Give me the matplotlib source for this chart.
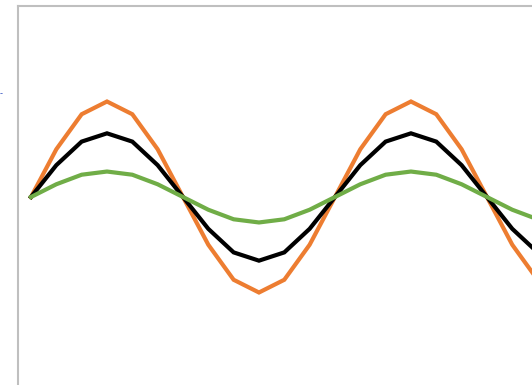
import matplotlib
matplotlib.use('Agg')
import matplotlib.pyplot as plt

# sample index (30 degree steps)
x = list(range(25))

# series values
orange = [0, 0.75, 1.3, 1.5, 1.3, 0.75, 0, -0.75, -1.3, -1.5, -1.3, -0.75,
          0, 0.75, 1.3, 1.5, 1.3, 0.75, 0, -0.75, -1.3, -1.5, -1.3, -0.75, 0]
black = [0, 0.5, 0.87, 1.0, 0.87, 0.5, 0, -0.5, -0.87, -1.0, -0.87, -0.5,
         0, 0.5, 0.87, 1.0, 0.87, 0.5, 0, -0.5, -0.87, -1.0, -0.87, -0.5, 0]
green = [0, 0.2, 0.35, 0.4, 0.35, 0.2, 0, -0.2, -0.35, -0.4, -0.35, -0.2,
         0, 0.2, 0.35, 0.4, 0.35, 0.2, 0, -0.2, -0.35, -0.4, -0.35, -0.2, 0]

W, H = 532, 385
fig = plt.figure(figsize=(W / 100, H / 100), dpi=100)

# axes placed in pixels: left 18, top 6, runs past the right and bottom edge
left, top, right, bottom = 18, 6, 560, 388
ax = fig.add_axes([left / W, 1 - bottom / H, (right - left) / W, (bottom - top) / H])

ax.plot(x, orange, color='#ED7D31', linewidth=3, solid_joinstyle='miter')
ax.plot(x, black, color='black', linewidth=3, solid_joinstyle='miter')
ax.plot(x, green, color='#70AD47', linewidth=3, solid_joinstyle='miter')

ax.set_xlim(-0.513, (right - 31) / 25.33)
ax.set_ylim(-3, 3)
ax.set_xticks([])
ax.set_yticks([])
for s in ax.spines.values():
    s.set_color('#bfbfbf')
    s.set_linewidth(1.5)

# tiny label fragment at the far left
fig.text(0.0, 1 - 94 / H, '-', color='#3050c0', fontsize=6, va='center', ha='left')

fig.savefig('out.png', dpi=100)
